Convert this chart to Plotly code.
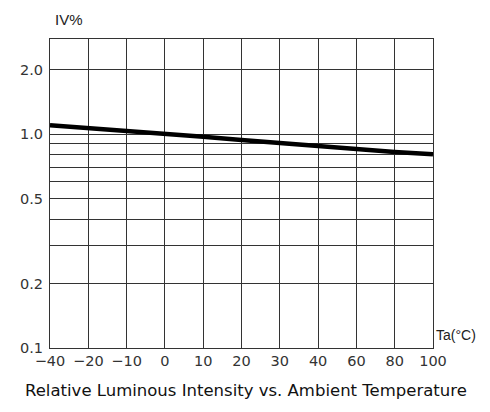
import plotly.graph_objects as go

# Data
temps = ["\u221240", "\u221220", "\u221210", "0", "10", "20", "30", "40", "60", "80", "100"]
rel_intensity = [1.098, 1.067, 1.033, 1.000, 0.971, 0.938, 0.911, 0.885, 0.851, 0.824, 0.804]

y_tickvals = [0.1, 0.2, 0.3, 0.4, 0.5, 0.6, 0.7, 0.8, 0.9, 1.0, 2.0]
y_ticktext = ["0.1", "0.2", "", "", "0.5", "", "", "", "", "1.0", "2.0"]

font_main = "DejaVu Sans, sans-serif"
font_label = "Liberation Sans, Arial, sans-serif"

fig = go.Figure()
fig.add_trace(go.Scatter(
    x=temps, y=rel_intensity, mode="lines",
    line=dict(color="black", width=4.5),
    showlegend=False, hoverinfo="skip",
))

# page body has an 8px margin, so the figure is offset by 8px
fig.update_layout(
    width=482, height=404,
    margin=dict(l=34, r=57, t=31, b=64),
    paper_bgcolor="white", plot_bgcolor="white",
    font=dict(family=font_main, size=14.5, color="#333"),
    xaxis=dict(
        type="category", categoryorder="array", categoryarray=temps,
        range=[0, len(temps) - 1],
        tickvals=temps, ticktext=temps,
        showgrid=True, gridcolor="#333", gridwidth=1,
        showline=True, linecolor="#333", linewidth=1, mirror=True,
        ticks="", ticklabelstandoff=0,
        tickfont=dict(size=14.5, color="#333"),
        zeroline=False,
    ),
    yaxis=dict(
        type="log", range=[-1, 0.444],
        tickvals=y_tickvals, ticktext=y_ticktext,
        showgrid=True, gridcolor="#333", gridwidth=1,
        showline=True, linecolor="#333", linewidth=1, mirror=True,
        ticks="", ticklabelstandoff=3,
        tickfont=dict(size=14.5, color="#333"),
        zeroline=False,
    ),
    annotations=[
        dict(text="IV%", xref="paper", yref="paper", x=0.0077, y=1.0615,
             xanchor="left", yanchor="middle", showarrow=False,
             font=dict(family=font_label, size=15, color="#222")),
        dict(text="Ta(\u00b0C)", xref="paper", yref="paper", x=1.006, y=0.042,
             xanchor="left", yanchor="middle", showarrow=False, borderpad=0,
             font=dict(family=font_label, size=14, color="#222")),
        dict(text="Relative Luminous Intensity vs. Ambient Temperature",
             xref="paper", yref="paper", x=0.513, y=-0.136,
             xanchor="center", yanchor="middle", showarrow=False,
             font=dict(size=16.5, color="#111")),
    ],
)

fig.write_html("out.html")
